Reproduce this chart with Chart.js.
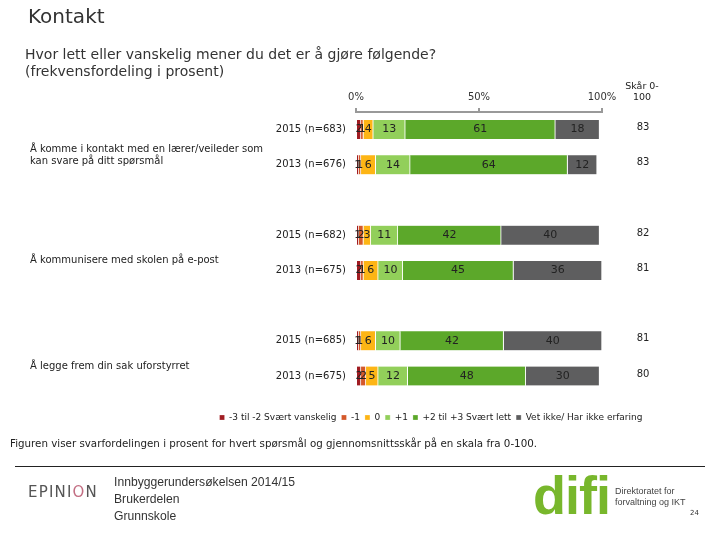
<!DOCTYPE html>
<html>
<head>
<meta charset="utf-8">
<script src="https://cdn.jsdelivr.net/npm/chart.js@4.4.1/dist/chart.umd.min.js"></script>
<style>
body { margin: 0; width: 720px; height: 540px; position: relative; background: #fff; overflow: hidden; font-family: "DejaVu Sans", sans-serif; }
#c { position: absolute; left: 0; top: 0; }
.t { position: absolute; white-space: nowrap; color: #222; }
</style>
</head>
<body>
<canvas id="c" width="720" height="540"></canvas>

<div class="t" style="left:28px;top:4px;font-size:20px;color:#333">Kontakt</div>
<div class="t" style="left:25px;top:46px;font-size:14px;line-height:17px;color:#333">Hvor lett eller vanskelig mener du det er å gjøre følgende?<br>(frekvensfordeling i prosent)</div>
<div class="t" style="left:612px;top:80px;width:60px;text-align:center;font-size:9.5px;line-height:11px">Skår 0-<br>100</div>

<div class="t" style="left:10px;top:437px;font-size:10.3px">Figuren viser svarfordelingen i prosent for hvert spørsmål og gjennomsnittsskår på en skala fra 0-100.</div>
<div style="position:absolute;left:15px;top:466px;width:690px;height:1px;background:#222"></div>
<div class="t" style="left:28px;top:483px;font-size:15px;letter-spacing:1.2px;color:#555">EPINI<span style="color:#c26d82">O</span>N</div>
<div class="t" style="left:114px;top:473px;font-family:'Liberation Sans';font-size:13.5px;line-height:17px;color:#333;transform:scaleX(0.9);transform-origin:0 0">Innbyggerundersøkelsen 2014/15<br>Brukerdelen<br>Grunnskole</div>
<div class="t" style="left:533px;top:464px;font-family:'Liberation Sans';font-weight:bold;font-size:54px;color:#78b72c;letter-spacing:-1px">difi</div>
<div class="t" style="left:615px;top:486px;font-family:'Liberation Sans';font-size:9px;line-height:11px;color:#444">Direktoratet for<br>forvaltning og IKT</div>
<div class="t" style="left:690px;top:509px;font-size:7px;color:#333">24</div>

<script>
// question groups and the two survey rounds in each
const questions = [
    ['Å komme i kontakt med en lærer/veileder som', 'kan svare på ditt spørsmål'],
    ['Å kommunisere med skolen på e-post'],
    ['Å legge frem din sak uforstyrret']
];
const years = ['2015 (n=683)', '2013 (n=676)', '2015 (n=682)', '2013 (n=675)', '2015 (n=685)', '2013 (n=675)'];

const svaertVanskelig = [2, 1, 1, 2, 1, 2];
const minusEn = [1, 1, 2, 1, 1, 2];
const null0 = [4, 6, 3, 6, 6, 5];
const plussEn = [13, 14, 11, 10, 10, 12];
const svaertLett = [61, 64, 42, 45, 42, 48];
const vetIkke = [18, 12, 40, 36, 40, 30];
const scores = [83, 83, 82, 81, 81, 80];

const xTicks = [0, 50, 100];

// insert an empty row between the question groups
function spaced(arr) {
    const out = [];
    arr.forEach((v, i) => {
        if (i > 0 && i % 2 === 0) out.push(null);
        out.push(v);
    });
    return out;
}

const rowLabels = spaced(years).map(v => v === null ? '' : v);
const rowIndex = spaced(years.map((_, i) => i));

const valueLabels = {
    id: 'valueLabels',
    afterDatasetsDraw(chart) {
        const ctx = chart.ctx;
        ctx.save();
        ctx.font = '11px "DejaVu Sans"';
        ctx.fillStyle = '#222';
        ctx.textAlign = 'center';
        ctx.textBaseline = 'middle';
        chart.data.datasets.forEach((ds, i) => {
            chart.getDatasetMeta(i).data.forEach((bar, j) => {
                const v = ds.data[j];
                if (v == null) return;
                const c = bar.getCenterPoint();
                ctx.fillText(v, c.x, c.y);
            });
        });
        ctx.restore();
    }
};

const sideTexts = {
    id: 'sideTexts',
    afterDraw(chart) {
        const ctx = chart.ctx;
        const y = chart.scales.y;
        const area = chart.chartArea;
        ctx.save();
        ctx.fillStyle = '#222';
        ctx.textBaseline = 'middle';

        // score column
        ctx.font = '10px "DejaVu Sans"';
        ctx.textAlign = 'center';
        rowIndex.forEach((r, i) => {
            if (r === null) return;
            ctx.fillText(scores[r], area.right + 41, y.getPixelForValue(i) - 2);
        });

        // question texts
        ctx.font = '10px "DejaVu Sans"';
        ctx.textAlign = 'left';
        questions.forEach((lines, g) => {
            const mid = (y.getPixelForValue(g * 3) + y.getPixelForValue(g * 3 + 1)) / 2;
            const top = mid + 8 - (lines.length - 1) * 6;
            lines.forEach((txt, k) => ctx.fillText(txt, 30, top + k * 12));
        });
        ctx.restore();
    }
};

const ctx = document.getElementById('c').getContext('2d');
new Chart(ctx, {
    type: 'bar',
    data: {
        labels: rowLabels,
        datasets: [
            { label: '-3 til -2 Svært vanskelig', data: spaced(svaertVanskelig), backgroundColor: '#a01c22' },
            { label: '-1', data: spaced(minusEn), backgroundColor: '#d4582a' },
            { label: '0', data: spaced(null0), backgroundColor: '#fdb515' },
            { label: '+1', data: spaced(plussEn), backgroundColor: '#92cf5a' },
            { label: '+2 til +3 Svært lett', data: spaced(svaertLett), backgroundColor: '#5ca82a' },
            { label: 'Vet ikke/ Har ikke erfaring', data: spaced(vetIkke), backgroundColor: '#5e5e5f' }
        ]
    },
    options: {
        indexAxis: 'y',
        responsive: false,
        animation: false,
        barThickness: 19,
        borderColor: '#ffffff',
        borderWidth: { right: 1, left: 0, top: 0, bottom: 0 },
        borderSkipped: false,
        layout: {
            padding: { top: 86, bottom: 108, left: 142, right: 0 }
        },
        plugins: {
            legend: {
                position: 'bottom',
                title: { display: true, text: ' ', padding: 0, font: { size: 12 } },
                labels: {
                    boxWidth: 5,
                    boxHeight: 5,
                    padding: 5,
                    color: '#222',
                    font: { family: 'DejaVu Sans', size: 9 }
                }
            },
            tooltip: { enabled: false }
        },
        scales: {
            x: {
                position: 'top',
                stacked: true,
                min: 0,
                max: 100,
                afterBuildTicks(scale) {
                    scale.ticks = xTicks.map(v => ({ value: v }));
                },
                ticks: {
                    color: '#333',
                    padding: 5,
                    font: { family: 'DejaVu Sans', size: 10 },
                    callback: function(value) {
                        return value + '%';
                    }
                },
                grid: {
                    drawOnChartArea: false,
                    tickLength: 4,
                    color: '#999',
                    lineWidth: 2
                },
                border: { color: '#999', width: 2 }
            },
            y: {
                stacked: true,
                afterFit(scale) {
                    scale.width = 214;
                },
                ticks: {
                    color: '#222',
                    padding: 2,
                    font: { family: 'DejaVu Sans', size: 10 }
                },
                grid: { display: false },
                border: { display: false }
            },
            // empty right axis that keeps room for the score column
            yRight: {
                type: 'category',
                position: 'right',
                display: true,
                afterFit(scale) {
                    scale.width = 118;
                },
                ticks: { display: false },
                grid: { display: false },
                border: { display: false }
            }
        }
    },
    plugins: [valueLabels, sideTexts]
});
</script>
</body>
</html>
